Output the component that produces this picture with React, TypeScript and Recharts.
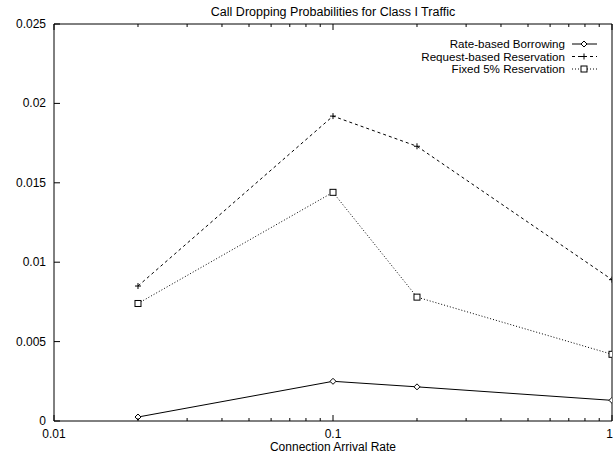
import { LineChart, Line, XAxis, YAxis, Customized } from 'recharts'

// arrival rates on the log axis
const arrivalRates = [0.02, 0.1, 0.2, 1]

// call dropping probabilities per scheme
const rateBased = [0.00025, 0.0025, 0.00215, 0.0013]
const requestBased = [0.0085, 0.0192, 0.0173, 0.0089]
const fixedFive = [0.0074, 0.0144, 0.0078, 0.0042]

const seriesNames = ['Rate-based Borrowing', 'Request-based Reservation', 'Fixed 5% Reservation']

const xMajorTicks = [0.01, 0.1, 1]
const xMajorLabels = ['0.01', '0.1', '1']
const xMinorTicks = [0.02, 0.03, 0.04, 0.05, 0.06, 0.07, 0.08, 0.09, 0.2, 0.3, 0.4, 0.5, 0.6, 0.7, 0.8, 0.9]
const yTicks = [0, 0.005, 0.01, 0.015, 0.02, 0.025]
const yTickLabels = ['0', '0.005', '0.01', '0.015', '0.02', '0.025']

const data = arrivalRates.map((rate, i) => ({
  rate,
  rateBased: rateBased[i],
  requestBased: requestBased[i],
  fixedFive: fixedFive[i],
}))

const FONT = '"Liberation Sans", Arial, Helvetica, sans-serif'
const INK = '#000'
const allXTicks = [...xMajorTicks, ...xMinorTicks].sort((a, b) => a - b)

function marker(kind: string, cx: number, cy: number, key?: string | number) {
  const s = 3
  if (kind === 'diamond') {
    return (
      <path
        key={key}
        d={`M${cx},${cy - s}L${cx + s},${cy}L${cx},${cy + s}L${cx - s},${cy}Z`}
        fill='#fff'
        stroke={INK}
        strokeWidth={1}
      />
    )
  }
  if (kind === 'plus') {
    return (
      <path
        key={key}
        d={`M${cx - s},${cy}H${cx + s}M${cx},${cy - s}V${cy + s}`}
        stroke={INK}
        strokeWidth={1}
        fill='none'
      />
    )
  }
  return (
    <rect
      key={key}
      x={cx - s}
      y={cy - s}
      width={s * 2}
      height={s * 2}
      fill='#fff'
      stroke={INK}
      strokeWidth={1}
    />
  )
}

const makeDot = (kind: string) => (props: any) => marker(kind, props.cx, props.cy, `${kind}-${props.index}`)

function tickLen(value: number) {
  return xMajorTicks.includes(value) ? 6 : 3
}

function BottomTick({ x, y, payload }: any) {
  const v = payload.value
  const idx = xMajorTicks.indexOf(v)
  const last = idx === xMajorTicks.length - 1
  return (
    <g>
      <line x1={x} x2={x} y1={y} y2={y - tickLen(v)} stroke={INK} />
      {idx >= 0 && (
        <text
          x={last ? x + 1 : x}
          y={y + 17}
          textAnchor={last ? 'end' : 'middle'}
          fontSize={12}
          fontFamily={FONT}
          fill={INK}
        >
          {xMajorLabels[idx]}
        </text>
      )}
    </g>
  )
}

function TopTick({ x, y, payload }: any) {
  return <line x1={x} x2={x} y1={y} y2={y + tickLen(payload.value)} stroke={INK} />
}

function LeftTick({ x, y, payload }: any) {
  const idx = yTicks.indexOf(payload.value)
  return (
    <g>
      <line x1={x} x2={x + 6} y1={y} y2={y} stroke={INK} />
      <text x={x - 8} y={y + 4} textAnchor='end' fontSize={12} fontFamily={FONT} fill={INK}>
        {yTickLabels[idx]}
      </text>
    </g>
  )
}

function RightTick({ x, y }: any) {
  return <line x1={x} x2={x - 6} y1={y} y2={y} stroke={INK} />
}

const legendRows = [
  { name: seriesNames[0], dash: undefined, kind: 'diamond' },
  { name: seriesNames[1], dash: '3 3', kind: 'plus' },
  { name: seriesNames[2], dash: '1 2', kind: 'square' },
]

function Decorations() {
  return (
    <g fontFamily={FONT} fill={INK}>
      <text x={333} y={16} textAnchor='middle' fontSize={12.5}>
        Call Dropping Probabilities for Class I Traffic
      </text>
      <text x={333} y={451} textAnchor='middle' fontSize={12}>
        Connection Arrival Rate
      </text>
      {legendRows.map((row, i) => {
        const cy = 44 + i * 12.5
        return (
          <g key={row.name}>
            <text x={565} y={cy + 4} textAnchor='end' fontSize={11.6}>
              {row.name}
            </text>
            <line x1={572} x2={597} y1={cy} y2={cy} stroke={INK} strokeDasharray={row.dash} />
            {marker(row.kind, 584, cy)}
          </g>
        )
      })}
    </g>
  )
}

export default function App() {
  return (
    <div style={{ position: 'absolute', left: 0, top: 0, background: '#fff' }}>
      <LineChart width={613} height={460} data={data} margin={{ top: 0, right: 0, bottom: 0, left: 0 }}>
        <XAxis
          xAxisId='bottom'
          dataKey='rate'
          type='number'
          scale='log'
          domain={[0.01, 1]}
          ticks={allXTicks}
          interval={0}
          height={39}
          tickSize={0}
          tickMargin={0}
          tickLine={false}
          axisLine={{ stroke: INK }}
          tick={<BottomTick />}
          allowDataOverflow
        />
        <XAxis
          xAxisId='top'
          orientation='top'
          dataKey='rate'
          type='number'
          scale='log'
          domain={[0.01, 1]}
          ticks={allXTicks}
          interval={0}
          height={24}
          tickSize={0}
          tickMargin={0}
          tickLine={false}
          axisLine={{ stroke: INK }}
          tick={<TopTick />}
          allowDataOverflow
        />
        <YAxis
          yAxisId='left'
          type='number'
          domain={[0, 0.025]}
          ticks={yTicks}
          interval={0}
          width={54}
          tickSize={0}
          tickMargin={0}
          tickLine={false}
          axisLine={{ stroke: INK }}
          tick={<LeftTick />}
        />
        <YAxis
          yAxisId='right'
          orientation='right'
          type='number'
          domain={[0, 0.025]}
          ticks={yTicks}
          interval={0}
          width={1}
          tickSize={0}
          tickMargin={0}
          tickLine={false}
          axisLine={{ stroke: INK }}
          tick={<RightTick />}
        />
        <Line
          xAxisId='bottom'
          yAxisId='left'
          dataKey='rateBased'
          name={seriesNames[0]}
          stroke={INK}
          strokeWidth={1}
          dot={makeDot('diamond')}
          isAnimationActive={false}
        />
        <Line
          xAxisId='bottom'
          yAxisId='left'
          dataKey='requestBased'
          name={seriesNames[1]}
          stroke={INK}
          strokeWidth={1}
          strokeDasharray='3 3'
          dot={makeDot('plus')}
          isAnimationActive={false}
        />
        <Line
          xAxisId='bottom'
          yAxisId='left'
          dataKey='fixedFive'
          name={seriesNames[2]}
          stroke={INK}
          strokeWidth={1}
          strokeDasharray='1 2'
          dot={makeDot('square')}
          isAnimationActive={false}
        />
        <Customized component={Decorations} />
      </LineChart>
    </div>
  )
}
